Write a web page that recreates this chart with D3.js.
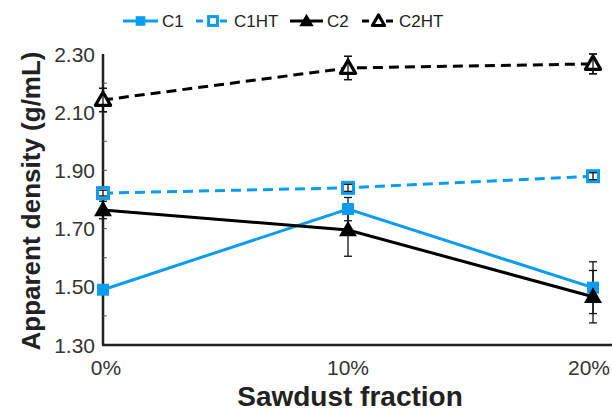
<!DOCTYPE html>
<html><head><meta charset="utf-8">
<script src="https://cdn.jsdelivr.net/npm/d3@7"></script>
<style>body{margin:0;background:#fff}svg{display:block}</style>
</head><body>
<svg id="c" width="612" height="412"></svg>
<script>
const categories = ["0%", "10%", "20%"];
const yTicks = [1.30, 1.50, 1.70, 1.90, 2.10, 2.30];
const seriesNames = ["C1", "C1HT", "C2", "C2HT"];
const c1 = [1.49, 1.767, 1.497];
const c1Err = [0.01, 0.04, 0.089];
const c1ht = [1.822, 1.84, 1.88];
const c1htErr = [0.01, 0.012, 0.012];
const c2 = [1.764, 1.695, 1.466];
const c2Err = [0.03, 0.09, 0.09];
const c2ht = [2.142, 2.252, 2.266];
const c2htErr = [0.04, 0.04, 0.034];

const BLUE = "#0a9cf0";
const FONT = "Liberation Sans, Arial, sans-serif";
const series = [
  {name: seriesNames[0], vals: c1, err: c1Err, color: BLUE, dash: null, shape: "square", open: false},
  {name: seriesNames[1], vals: c1ht, err: c1htErr, color: BLUE, dash: "10,6", shape: "square", open: true},
  {name: seriesNames[2], vals: c2, err: c2Err, color: "#000", dash: null, shape: "triangle", open: false},
  {name: seriesNames[3], vals: c2ht, err: c2htErr, color: "#000", dash: "10,6", shape: "triangle", open: true}
];

const svg = d3.select("#c");
const x = d3.scalePoint().domain(categories).range([103, 593]);
const y = d3.scaleLinear().domain([1.3, 2.3]).range([345, 54]);

// y axis
const yAxis = svg.append("g").attr("transform", "translate(103,0)");
yAxis.append("line").attr("x1", 0).attr("x2", 0).attr("y1", y(2.3)).attr("y2", y(1.3))
  .attr("stroke", "#222").attr("stroke-width", 2.5);
yAxis.selectAll("line.tk").data(d3.range(1.4, 2.3, 0.1)).enter().append("line")
  .attr("class", "tk").attr("x1", 0).attr("x2", 4).attr("y1", d => y(d)).attr("y2", d => y(d))
  .attr("stroke", "#555").attr("stroke-width", 1);
yAxis.selectAll("text").data(yTicks).enter().append("text")
  .attr("x", -8).attr("y", d => y(d)).attr("dy", "0.36em").attr("text-anchor", "end")
  .attr("font-family", FONT).attr("font-size", 21).attr("fill", "#333")
  .text(d => d3.format(".2f")(d));

// x axis
svg.append("line").attr("x1", 102).attr("x2", 612).attr("y1", y(1.3)).attr("y2", y(1.3))
  .attr("stroke", "#222").attr("stroke-width", 2.5);
svg.selectAll("text.xt").data(categories).enter().append("text").attr("class", "xt")
  .attr("x", d => x(d) + (d === "20%" ? -4 : d === "0%" ? 3 : 0)).attr("y", 375).attr("text-anchor", "middle")
  .attr("font-family", FONT).attr("font-size", 21).attr("fill", "#333")
  .text(d => d);

// axis titles
svg.append("text").attr("x", 350).attr("y", 406).attr("text-anchor", "middle")
  .attr("font-family", FONT).attr("font-weight", "bold").attr("font-size", 28)
  .attr("fill", "#222").text("Sawdust fraction");
svg.append("text").attr("transform", "translate(40,201) rotate(-90)").attr("text-anchor", "middle")
  .attr("font-family", FONT).attr("font-weight", "bold").attr("font-size", 26)
  .attr("fill", "#222").text("Apparent density (g/mL)");

const line = d3.line().x((d, i) => x(categories[i])).y(d => y(d));

function marker(g, s, cx, cy, scale) {
  const k = scale || 1;
  if (s.shape === "square") {
    const sz = (s.open ? 11 : 12) * k;
    g.append("rect").attr("x", cx - sz / 2).attr("y", cy - sz / 2).attr("width", sz).attr("height", sz)
      .attr("fill", s.open ? "#fff" : s.color).attr("stroke", s.color).attr("stroke-width", s.open ? 3 : 0);
  } else {
    g.append("path").attr("d", d3.symbol().type(d3.symbolTriangle).size((s.open ? 100 : 140) * k * k)())
      .attr("transform", `translate(${cx},${cy + 1})`)
      .attr("fill", s.open ? "#fff" : s.color).attr("stroke", s.color).attr("stroke-width", s.open ? 3.2 : 0)
      .attr("stroke-linejoin", "round");
  }
}

function errBar(s, v, e, cx) {
  const g = svg.append("g").attr("stroke", "#111").attr("stroke-width", 1.3);
  g.append("line").attr("x1", cx).attr("x2", cx).attr("y1", y(v + e)).attr("y2", y(v - e));
  [v + e, v - e].forEach(t => {
    g.append("line").attr("x1", cx - 4).attr("x2", cx + 4).attr("y1", y(t)).attr("y2", y(t));
  });
}

// lines
series.forEach(s => {
  svg.append("path").datum(s.vals).attr("d", line).attr("fill", "none")
    .attr("stroke", s.color).attr("stroke-width", 3).attr("stroke-dasharray", s.dash);
});
// error bars
series.forEach(s => s.vals.forEach((v, i) => errBar(s, v, s.err[i], x(categories[i]))));
// markers
series.forEach(s => s.vals.forEach((v, i) => marker(svg, s, x(categories[i]), y(v))));
// error bars over open markers (visible inside)
series.filter(s => s.open).forEach(s => s.vals.forEach((v, i) => errBar(s, v, s.err[i], x(categories[i]))));

// legend
const legendX = [123, 196, 290, 362];
const legendTextX = [162, 234, 327, 399];
series.forEach((s, i) => {
  const g = svg.append("g");
  const x0 = legendX[i], x1 = legendTextX[i] - 4;
  g.append("line").attr("x1", x0).attr("x2", x1).attr("y1", 21).attr("y2", 21)
    .attr("stroke", s.color).attr("stroke-width", 3).attr("stroke-dasharray", s.dash ? "7,5" : null);
  marker(g, s, (x0 + x1) / 2, 21, 0.8);
  g.append("text").attr("x", legendTextX[i]).attr("y", 21).attr("dy", "0.36em")
    .attr("font-family", FONT).attr("font-size", 17).attr("fill", "#222")
    .text(s.name);
});
</script>
</body></html>
